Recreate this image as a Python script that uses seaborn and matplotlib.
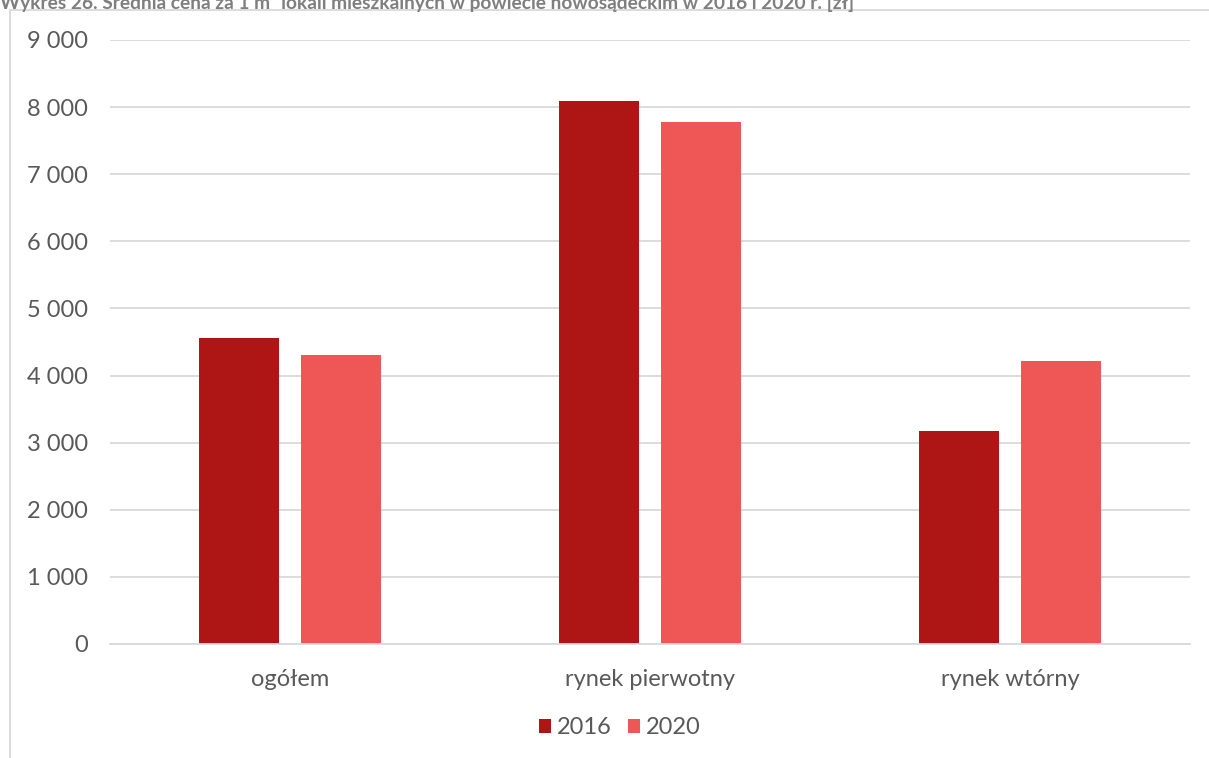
import matplotlib
matplotlib.use("Agg")
import matplotlib.pyplot as plt
import seaborn as sns
import pandas as pd
from matplotlib.patches import Rectangle

categories = ["ogółem", "rynek pierwotny", "rynek wtórny"]
years = ["2016", "2020"]
values_2016 = [4560, 8090, 3170]
values_2020 = [4310, 7780, 4220]
yticks = [0, 1000, 2000, 3000, 4000, 5000, 6000, 7000, 8000, 9000]
title = "Wykres 26. Średnia cena za 1 m² lokali mieszkalnych w powiecie nowosądeckim w 2016 i 2020 r. [zł]"

df = pd.DataFrame({
    "kategoria": categories * 2,
    "rok": [years[0]] * 3 + [years[1]] * 3,
    "wartosc": values_2016 + values_2020,
})

sns.set_theme(style="white")
plt.rcParams["font.family"] = ["Lato", "DejaVu Sans"]
txt = "#595959"

fig = plt.figure(figsize=(12.09, 7.58), dpi=100)
ax = fig.add_axes([110 / 1209, 1 - 644 / 758, 1080 / 1209, 604 / 758])

sns.barplot(data=df, x="kategoria", y="wartosc", hue="rok", order=categories,
            hue_order=years, palette=["#AE1515", "#EF5757"], width=0.567,
            gap=0.216, ax=ax, saturation=1, edgecolor="none", legend=True)

ax.set_ylim(0, 9000)
ax.set_xlim(-0.5, 2.5)
ax.set_yticks(yticks)
ax.set_yticklabels([f"{v:,}".replace(",", " ") for v in yticks])
ax.yaxis.grid(True, color="#D9D9D9", linewidth=1.3)
ax.set_axisbelow(True)
for s in ["top", "right", "left"]:
    ax.spines[s].set_visible(False)
ax.spines["bottom"].set_color("#D9D9D9")
ax.spines["bottom"].set_linewidth(1.3)
ax.tick_params(axis="both", length=0, labelsize=17, colors=txt)
ax.tick_params(axis="y", pad=16)
ax.tick_params(axis="x", pad=18)
ax.set_xlabel("")
ax.set_ylabel("")

handles, labels = ax.get_legend_handles_labels()
ax.legend_.remove()
fig.legend(handles, labels, loc="center", bbox_to_anchor=(620 / 1209, 1 - 728 / 758),
           ncol=2, frameon=False, fontsize=17, labelcolor=txt, handlelength=0.5,
           handleheight=0.5, handletextpad=0.25, columnspacing=0.7)

fig.patches.append(Rectangle((10 / 1209, -0.1), 1.2, (1 - 10 / 758) + 0.1,
                             transform=fig.transFigure, fill=False,
                             edgecolor="#D9D9D9", linewidth=1.3))
fig.text(0.0, 1 - 1 / 758, title, ha="left", va="center", fontsize=13.8,
         fontweight="bold", color="#7F7F7F")

fig.savefig("out.png", dpi=100)
